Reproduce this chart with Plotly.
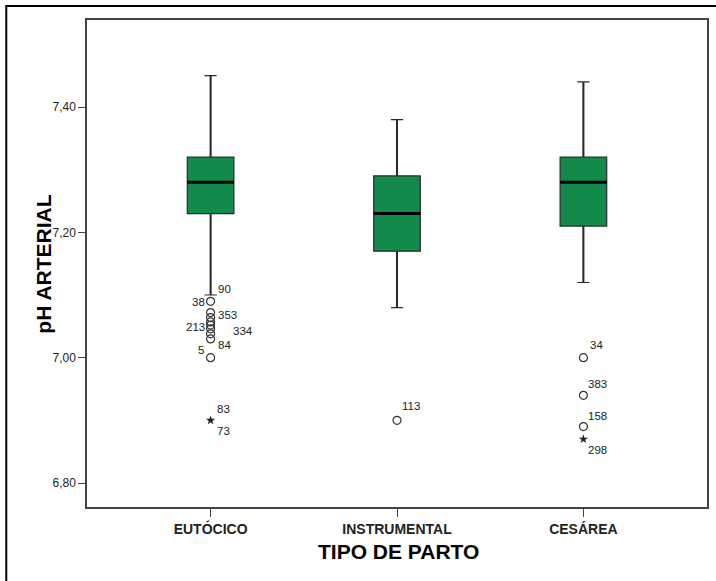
import plotly.graph_objects as go

# ---------------- data ----------------
categories = ["EUTÓCICO", "INSTRUMENTAL", "CESÁREA"]
q1 = [7.23, 7.17, 7.21]
median = [7.28, 7.23, 7.28]
q3 = [7.32, 7.29, 7.32]
lower_whisker = [7.10, 7.08, 7.12]
upper_whisker = [7.45, 7.38, 7.44]

# outliers (circles) : category index, value
out_cat = [0, 0, 0, 0, 0, 0, 0, 0, 0, 1, 2, 2, 2]
out_val = [7.09, 7.072, 7.064, 7.057, 7.052, 7.046, 7.038, 7.03, 7.00, 6.90, 7.00, 6.94, 6.89]
# extremes (stars)
ext_cat = [0, 2]
ext_val = [6.90, 6.87]

# case labels: text, category index, value of the case
lab_text = ["90", "38", "353", "213", "334", "84", "5", "83", "73", "113", "34", "383", "158", "298"]
lab_cat = [0, 0, 0, 0, 0, 0, 0, 0, 0, 1, 2, 2, 2, 2]
lab_val = [7.09, 7.09, 7.072, 7.052, 7.046, 7.03, 7.00, 6.90, 6.90, 6.90, 7.00, 6.94, 6.89, 6.87]

y_ticks = [6.80, 7.00, 7.20, 7.40]

# ---------------- layout helpers (pixel offsets of labels) ----------------
lab_dx = [5, -4, 5, -4, 20, 5, -5, 4, 4, 3, 5, 3, 3, 3]
lab_dy = [-12, 1, 2, 2, 2, 6.5, -8, -11.5, 11, -14.5, -12.5, -11.5, -11, 11]
lab_anchor = ["left", "right", "left", "right", "left", "left", "right",
              "left", "left", "left", "left", "left", "left", "left"]

GREEN = "#118A4B"
LINE = "#2a2a2a"
BOXW = 0.25

fig = go.Figure()

for i, c in enumerate(categories):
    fig.add_trace(go.Box(
        x=[i], q1=[q1[i]], median=[median[i]], q3=[q3[i]],
        lowerfence=[lower_whisker[i]], upperfence=[upper_whisker[i]],
        width=BOXW, whiskerwidth=0.26, fillcolor=GREEN,
        line=dict(color=LINE, width=1.2), showlegend=False, hoverinfo="skip"))
    # thicker whiskers
    for a, b in ((q3[i], upper_whisker[i]), (lower_whisker[i], q1[i])):
        fig.add_trace(go.Scatter(x=[i, i], y=[a, b], mode="lines",
                                 line=dict(color=LINE, width=2),
                                 showlegend=False, hoverinfo="skip"))
    # thick median
    fig.add_trace(go.Scatter(x=[i - BOXW / 2, i + BOXW / 2], y=[median[i], median[i]],
                             mode="lines", line=dict(color="black", width=3),
                             showlegend=False, hoverinfo="skip"))

fig.add_trace(go.Scatter(x=out_cat, y=out_val, mode="markers",
                         marker=dict(symbol="circle-open", size=8,
                                     color="#333333", line=dict(width=1.2)),
                         showlegend=False, hoverinfo="skip"))
fig.add_trace(go.Scatter(x=ext_cat, y=ext_val, mode="markers",
                         marker=dict(symbol="star", size=7, color="#222222"),
                         showlegend=False, hoverinfo="skip"))

for t, c, v, dx, dy, an in zip(lab_text, lab_cat, lab_val, lab_dx, lab_dy, lab_anchor):
    fig.add_annotation(x=c, y=v, text=t, showarrow=False, xanchor=an, yanchor="middle",
                       xshift=dx, yshift=-dy,
                       font=dict(family="Liberation Sans, Arial", size=11.5, color="#222222"))

# axis titles
fig.add_annotation(xref="paper", yref="paper", x=0.503, y=-0.092, text="<b>TIPO DE PARTO</b>",
                   showarrow=False, xanchor="center", yanchor="middle",
                   font=dict(family="Liberation Sans, Arial", size=21, color="black"))
fig.add_annotation(xref="paper", yref="paper", x=-0.0699, y=0.499, text="<b>pH ARTERIAL</b>",
                   showarrow=False, xanchor="center", yanchor="middle", textangle=-90,
                   font=dict(family="Liberation Sans, Arial", size=21, color="black"))

# outer frame
fig.add_shape(type="rect", xref="paper", yref="paper", x0=-0.1302, x1=2, y0=-1, y1=1.0287,
              line=dict(color="black", width=2), fillcolor="rgba(0,0,0,0)", layer="above")

fig.update_layout(
    width=716, height=581,
    margin=dict(l=87, r=7, t=20, b=74),
    paper_bgcolor="white", plot_bgcolor="white",
    separators=",.",
    font=dict(family="Liberation Sans, Arial", color="#222222"),
)
fig.update_xaxes(range=[-0.663, 2.663], tickvals=list(range(len(categories))), ticktext=categories,
                 showgrid=False, zeroline=False, showline=True, linecolor="#444444", linewidth=1.5,
                 mirror=True, ticks="outside", ticklen=8, tickcolor="#444444", tickwidth=1.2,
                 tickfont=dict(family="Liberation Sans, Arial", size=14, color="#222222", weight="bold"))
fig.update_yaxes(range=[6.7617, 7.5389], tickvals=y_ticks, tickformat=".2f",
                 showgrid=False, zeroline=False, showline=True, linecolor="#444444", linewidth=1.5,
                 mirror=True, ticks="outside", ticklen=7, tickcolor="#444444", tickwidth=1.2,
                 tickfont=dict(family="Liberation Sans, Arial", size=12, color="#222222"))

fig.write_html("out.html")
